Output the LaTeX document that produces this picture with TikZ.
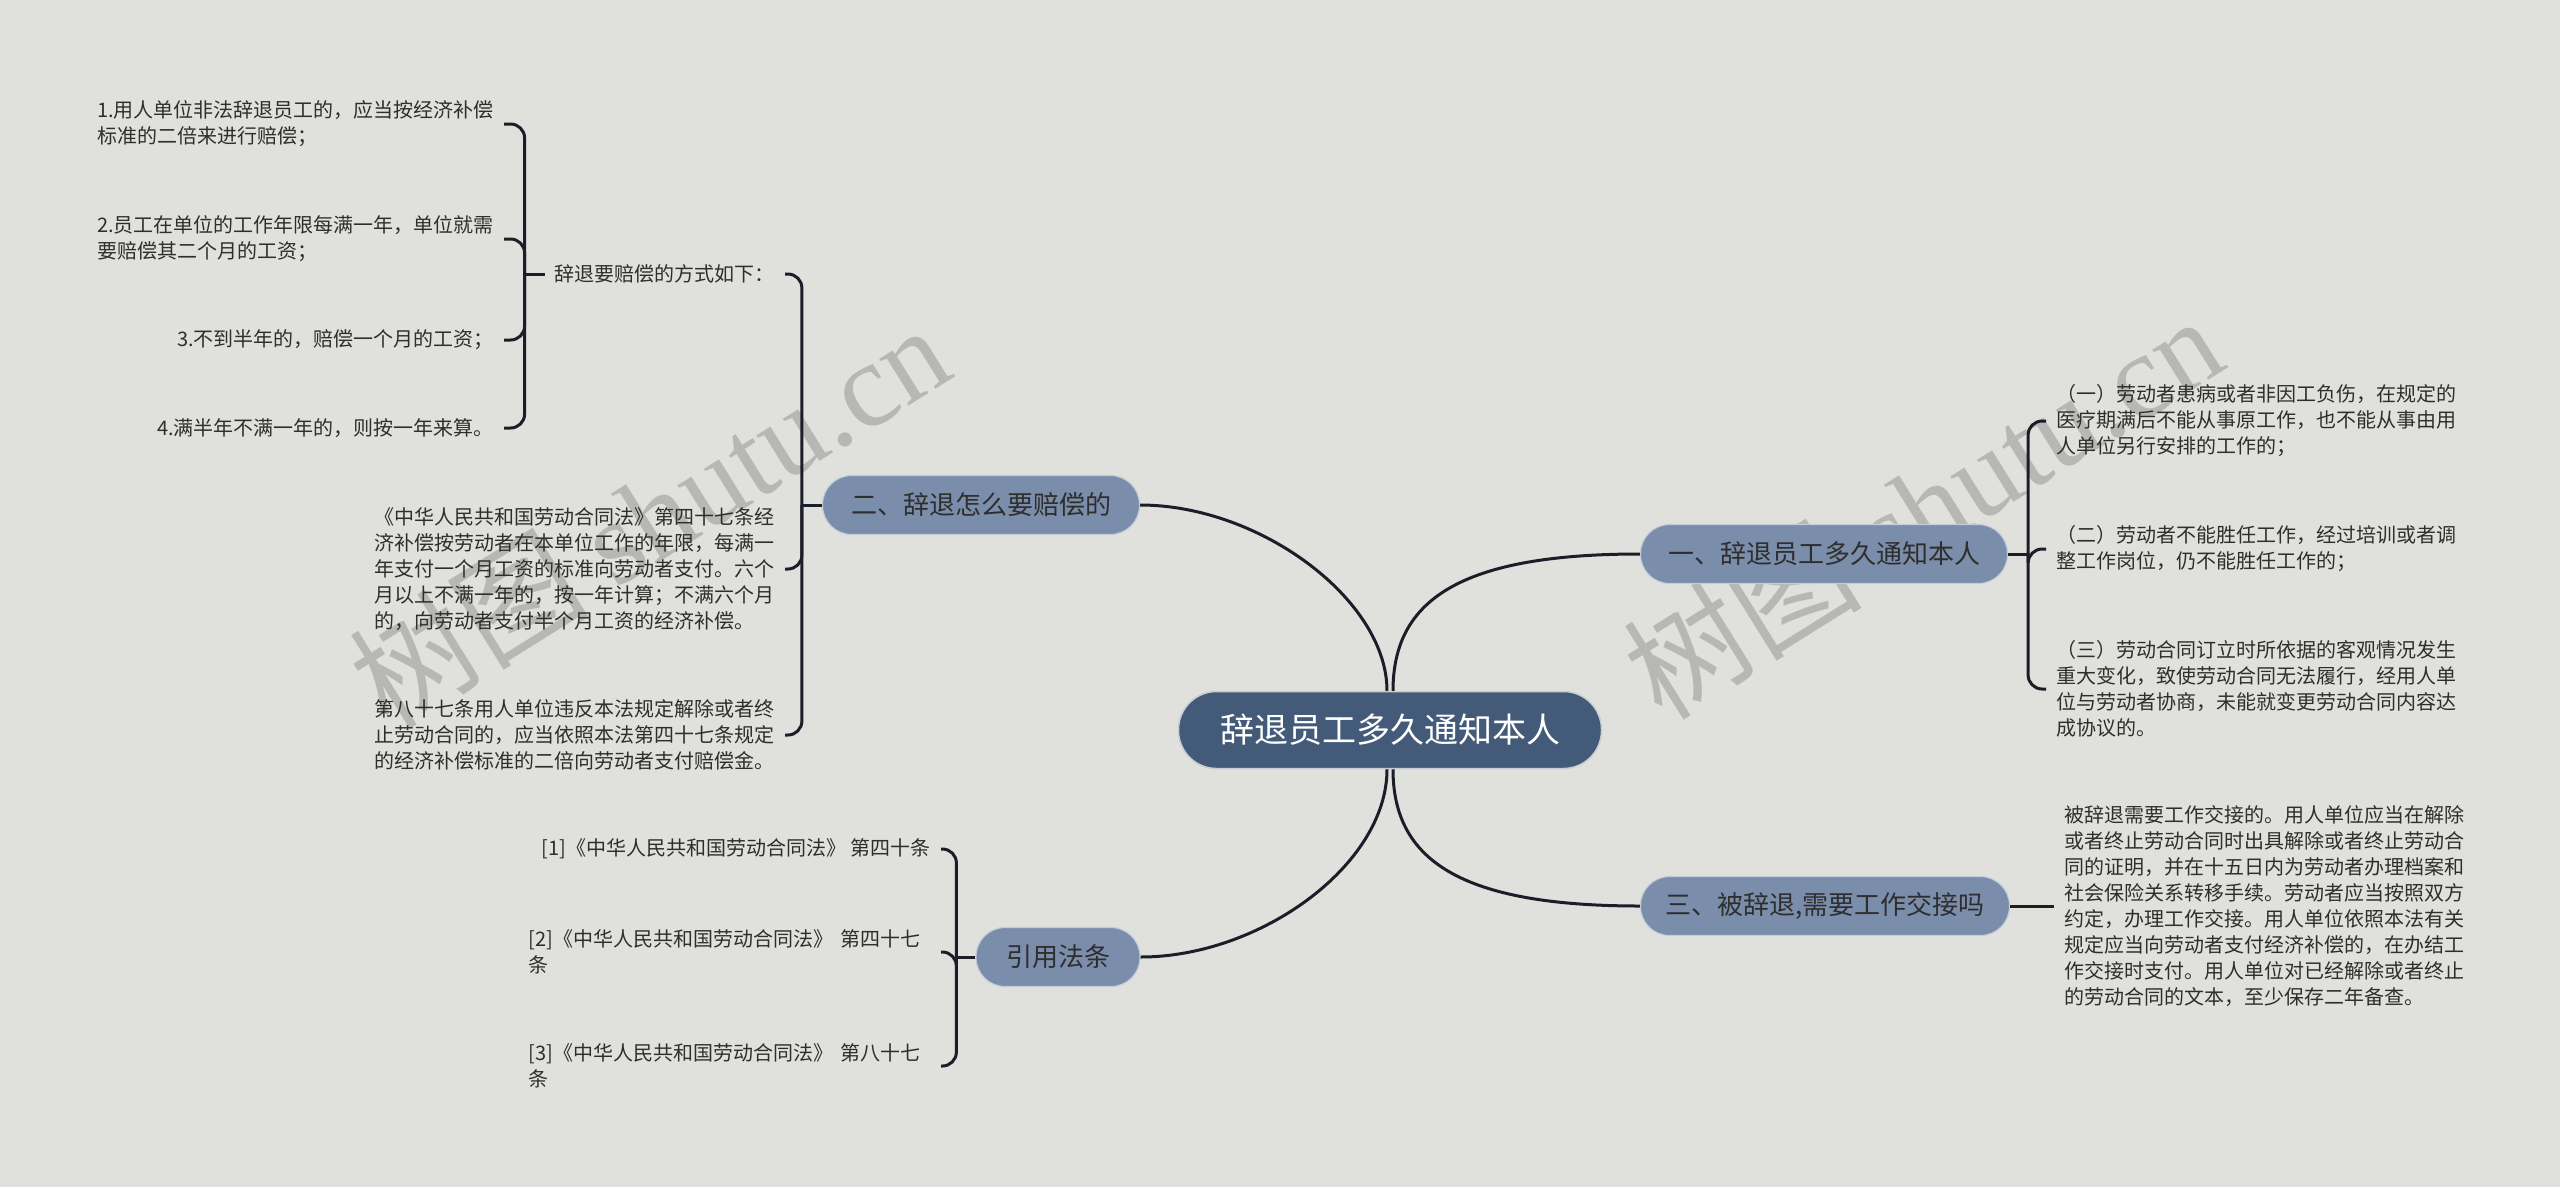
\documentclass[tikz,border=0pt]{standalone}
\usepackage{fontspec}
\setmainfont{Noto Sans CJK SC}
\newfontfamily\wmserif{Liberation Serif}
\usetikzlibrary{backgrounds}
\definecolor{bgc}{HTML}{E0E1DC}
\definecolor{rootfill}{HTML}{435A78}
\definecolor{branchfill}{HTML}{7A8DAA}
\definecolor{linec}{HTML}{1B1E28}
\definecolor{txt}{HTML}{2E2E2E}
\definecolor{wmc}{HTML}{B7B8B4}
\begin{document}
\begin{tikzpicture}[x=1pt,y=-1pt,
  rootnode/.style={fill=rootfill, draw=white!70!rootfill, line width=1.5pt, rounded corners=38pt,
    minimum height=77pt, minimum width=423pt, text=white, font=\fontsize{34}{40}\selectfont, inner sep=0pt},
  branchnode/.style={fill=branchfill, draw=white!55!branchfill, line width=1.2pt, rounded corners=29pt,
    minimum height=59pt, text=txt, font=\fontsize{26}{30}\selectfont, inner sep=0pt},
  leaf/.style={text=txt, font=\fontsize{20}{26}\selectfont, inner xsep=10pt, inner ysep=2pt, align=left},
  conn/.style={draw=linec, line width=3pt},
  bracel/.style={draw=linec, line width=3pt, rounded corners=14pt},
  wmark/.style={rotate=32, text=wmc, font=\fontsize{120}{120}\selectfont, inner sep=0pt},
]
\useasboundingbox (0,0) rectangle (2560,1187);

% ---- nodes ----
\node[rootnode] (root) at (1390,730) {辞退员工多久通知本人};
\node[branchnode, minimum width=317pt] (b2) at (981,505) {二、辞退怎么要赔偿的};
\node[branchnode, minimum width=367pt] (b1) at (1824,554) {一、辞退员工多久通知本人};
\node[branchnode, minimum width=369pt] (b3) at (1825,906) {三、被辞退,需要工作交接吗};
\node[branchnode, minimum width=164pt] (b4) at (1058,957) {引用法条};

% left: group of branch 二
\node[leaf, anchor=east] (p1) at (785,274) {辞退要赔偿的方式如下：};
\node[leaf, anchor=east] (i1) at (504,124) {1.用人单位非法辞退员工的，应当按经济补偿\\标准的二倍来进行赔偿；};
\node[leaf, anchor=east] (i2) at (504,239) {2.员工在单位的工作年限每满一年，单位就需\\要赔偿其二个月的工资；};
\node[leaf, anchor=east] (i3) at (504,340) {3.不到半年的，赔偿一个月的工资；};
\node[leaf, anchor=east] (i4) at (504,428) {4.满半年不满一年的，则按一年来算。};
\node[leaf, anchor=east] (a1) at (785,569) {《中华人民共和国劳动合同法》第四十七条经\\济补偿按劳动者在本单位工作的年限，每满一\\年支付一个月工资的标准向劳动者支付。六个\\月以上不满一年的，按一年计算；不满六个月\\的，向劳动者支付半个月工资的经济补偿。};
\node[leaf, anchor=east] (a2) at (785,735) {第八十七条用人单位违反本法规定解除或者终\\止劳动合同的，应当依照本法第四十七条规定\\的经济补偿标准的二倍向劳动者支付赔偿金。};

% left: 引用法条
\node[leaf, anchor=east] (r1) at (941,849) {[1]《中华人民共和国劳动合同法》 第四十条};
\node[leaf, anchor=east, text width=402pt] (r2) at (941,952) {[2]《中华人民共和国劳动合同法》 第四十七\\条};
\node[leaf, anchor=east, text width=402pt] (r3) at (941,1066) {[3]《中华人民共和国劳动合同法》 第八十七\\条};

% right: branch 一
\node[leaf, anchor=west] (c1) at (2046,421) {（一）劳动者患病或者非因工负伤，在规定的\\医疗期满后不能从事原工作，也不能从事由用\\人单位另行安排的工作的；};
\node[leaf, anchor=west] (c2) at (2046,549) {（二）劳动者不能胜任工作，经过培训或者调\\整工作岗位，仍不能胜任工作的；};
\node[leaf, anchor=west] (c3) at (2046,689) {（三）劳动合同订立时所依据的客观情况发生\\重大变化，致使劳动合同无法履行，经用人单\\位与劳动者协商，未能就变更劳动合同内容达\\成协议的。};

% right: branch 三
\node[leaf, anchor=west] (d1) at (2054,906) {被辞退需要工作交接的。用人单位应当在解除\\或者终止劳动合同时出具解除或者终止劳动合\\同的证明，并在十五日内为劳动者办理档案和\\社会保险关系转移手续。劳动者应当按照双方\\约定，办理工作交接。用人单位依照本法有关\\规定应当向劳动者支付经济补偿的，在办结工\\作交接时支付。用人单位对已经解除或者终止\\的劳动合同的文本，至少保存二年备查。};

% ---- background and watermark ----
\begin{scope}[on background layer]
  \fill[bgc] (0,0) rectangle (2560,1187);
  \node[wmark] (wm1) at (649,515) {树图 {\wmserif shutu.cn}};
  \node[wmark] (wm2) at (1922,506) {树图 {\wmserif shutu.cn}};
\end{scope}

% ---- spine coordinates ----
\coordinate (s1) at ([xshift=-20pt]p1.west);
\coordinate (s2) at ([xshift=-20pt]b2.west);
\coordinate (s4) at ([xshift=-19pt]b4.west);
\coordinate (s3) at ([xshift=20pt]b1.east);

% ---- root curves ----
\draw[conn] ([xshift=-3pt]root.north) .. controls (1387,600) and (1260,505) .. (b2.east);
\draw[conn] ([xshift=3pt]root.north) .. controls (1393,600) and (1460,554) .. (b1.west);
\draw[conn] ([xshift=-3pt]root.south) .. controls (1387,865) and (1260,957) .. (b4.east);
\draw[conn] ([xshift=3pt]root.south) .. controls (1393,860) and (1460,906) .. (b3.west);

% ---- braces ----
\draw[conn] (b2.west) -- (s2);
\draw[bracel] (s2) |- (p1.east);
\draw[bracel] (s2) |- (a1.east);
\draw[bracel] (s2) |- (a2.east);

\draw[conn] (p1.west) -- (s1);
\draw[bracel] (s1) |- (i1.east);
\draw[bracel] (s1) |- (i2.east);
\draw[bracel] (s1) |- (i3.east);
\draw[bracel] (s1) |- (i4.east);

\draw[conn] (b4.west) -- (s4);
\draw[bracel] (s4) |- (r1.east);
\draw[bracel] (s4) |- (r2.east);
\draw[bracel] (s4) |- (r3.east);

\draw[conn] (b1.east) -- (s3);
\draw[bracel] (s3) |- (c1.west);
\draw[bracel] (s3) |- (c2.west);
\draw[bracel] (s3) |- (c3.west);

\draw[conn] (b3.east) -- (d1.west);
\end{tikzpicture}
\end{document}
